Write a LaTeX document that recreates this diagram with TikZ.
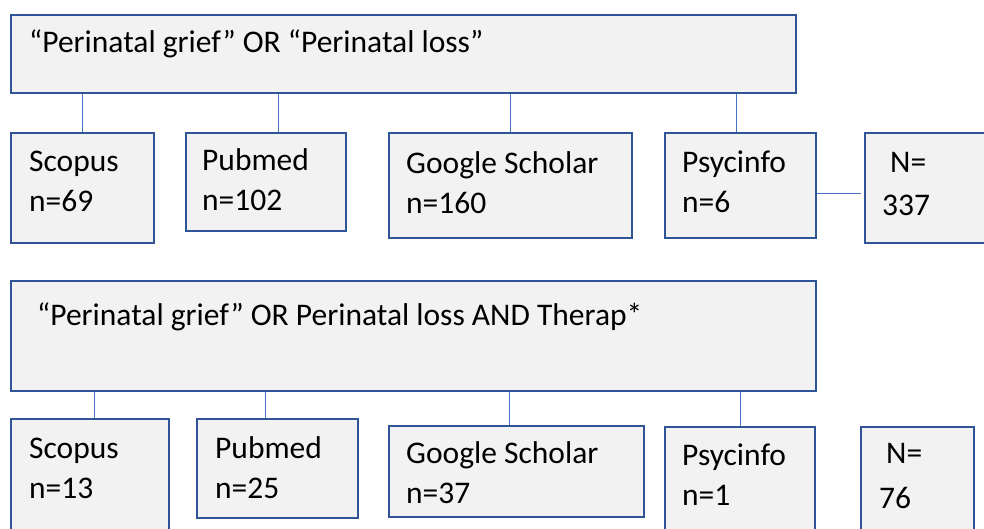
\documentclass[tikz,border=0pt]{standalone}
\usepackage{fontspec}
\setmainfont{Carlito}
\usepackage{tikz}

\definecolor{boxline}{HTML}{2F5597}
\definecolor{boxfill}{HTML}{F2F2F2}
\definecolor{linkline}{HTML}{4472C4}

\begin{document}
\begin{tikzpicture}[x=1pt,y=-1pt]

\tikzset{box/.style = {shape=rectangle,draw=boxline,fill=boxfill,line width=2.4pt,anchor=north west,inner sep=0pt}}
\tikzset{lbl/.style = {anchor=base west,inner sep=0pt,align=left,font=\fontsize{31.5}{40}\selectfont}}
\tikzset{link/.style = {draw=linkline,line width=1.2pt}}

\clip (0,0) rectangle (984,529);

\node[box,minimum width=785,minimum height=78] (q1) at (10,14) {};
\node[box,minimum width=143,minimum height=110] (s1) at (10,132) {};
\node[box,minimum width=160,minimum height=98] (p1) at (185,132) {};
\node[box,minimum width=243,minimum height=105] (g1) at (388,132) {};
\node[box,minimum width=151,minimum height=105] (y1) at (664,132) {};
\node[box,minimum width=140,minimum height=110] (n1) at (864,132) {};

\node[box,minimum width=805,minimum height=110] (q2) at (10,280) {};
\node[box,minimum width=158,minimum height=130] (s2) at (10,418) {};
\node[box,minimum width=161,minimum height=99] (p2) at (196,418) {};
\node[box,minimum width=255,minimum height=91] (g2) at (388,425) {};
\node[box,minimum width=150,minimum height=120] (y2) at (664,426) {};
\node[box,minimum width=113,minimum height=120] (n2) at (860,426) {};

\draw[link] (s1.north) to (s1.north |- q1.south);
\draw[link] ([xshift=12pt]p1.north) to ([xshift=12pt]p1.north |- q1.south);
\draw[link] (g1.north) to (g1.north |- q1.south);
\draw[link] ([xshift=-4pt]y1.north) to ([xshift=-4pt]y1.north |- q1.south);
\draw[link,shorten >=3pt] ([yshift=-7.5pt]y1.east) to ([yshift=-7.5pt]y1.east -| n1.west);

\draw[link] ([xshift=4pt]s2.north) to ([xshift=4pt]s2.north |- q2.south);
\draw[link] ([xshift=-12.5pt]p2.north) to ([xshift=-12.5pt]p2.north |- q2.south);
\draw[link] ([xshift=-7.5pt]g2.north) to ([xshift=-7.5pt]g2.north |- q2.south);
\draw[link] (y2.north) to (y2.north |- q2.south);

\node[lbl] (q1txt) at (29,53) {“Perinatal grief” OR “Perinatal loss”};
\node[lbl] (s1txt) at (29,212) {Scopus\\n=69};
\node[lbl] (p1txt) at (202,211) {Pubmed\\n=102};
\node[lbl] (g1txt) at (406,214) {Google Scholar\\n=160};
\node[lbl] (y1txt) at (682,213) {Psycinfo\\n=6};
\node[lbl] (n1txt) at (882,215) {\hspace*{8pt}N=\\[2pt]337};

\node[lbl] (q2txt) at (37,325) {“Perinatal grief” OR Perinatal loss AND Therap*};
\node[lbl] (s2txt) at (29,498) {Scopus\\n=13};
\node[lbl] (p2txt) at (215,498) {Pubmed\\n=25};
\node[lbl] (g2txt) at (406,503) {Google Scholar\\n=37};
\node[lbl] (y2txt) at (682,505) {Psycinfo\\n=1};
\node[lbl] (n2txt) at (879,508) {\hspace*{7pt}N=\\[5pt]76};

\end{tikzpicture}
\end{document}
